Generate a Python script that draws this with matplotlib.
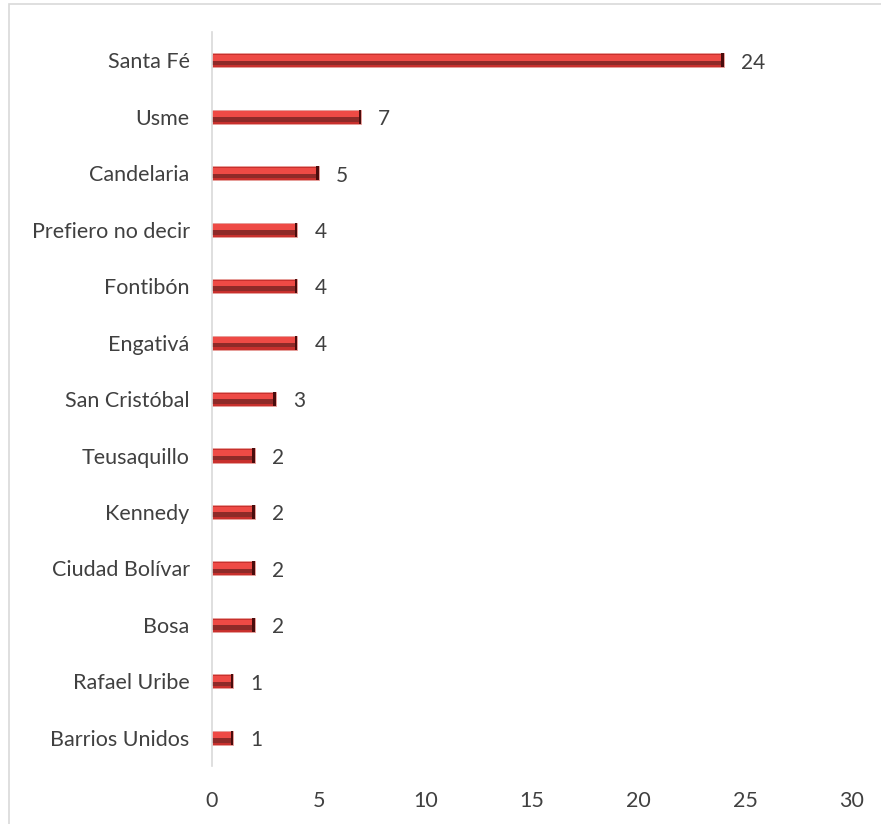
import matplotlib.pyplot as plt
from matplotlib.patches import Rectangle

localidades = ['Santa Fé', 'Usme', 'Candelaria', 'Prefiero no decir', 'Fontibón',
               'Engativá', 'San Cristóbal', 'Teusaquillo', 'Kennedy', 'Ciudad Bolívar',
               'Bosa', 'Rafael Uribe', 'Barrios Unidos']
valores = [24, 7, 5, 4, 4, 4, 3, 2, 2, 2, 2, 1, 1]
ticks_x = [0, 5, 10, 15, 20, 25, 30]

plt.rcParams['font.family'] = ['Lato', 'DejaVu Sans']

fig = plt.figure(figsize=(8.81, 8.24), dpi=100)
# marco del grafico
fig.patches.append(Rectangle((0.010, -0.01), 1.0, 1 - 0.005 + 0.01, transform=fig.transFigure,
                             fill=False, edgecolor='#d9d9d9', linewidth=1.2))

ax = fig.add_axes([0.2406, 0.0704, 0.7264, 0.8906])
y = list(range(len(localidades)))
h = 0.25

# barra con efecto de bisel (capas)
ax.barh(y, valores, height=h, color='#c8302d', edgecolor='#e7a09c', linewidth=0.6)
ax.barh([v + h * 0.12 for v in y], valores, height=h * 0.45, color='#8e2a28', linewidth=0)
ax.barh([v - h * 0.18 for v in y], valores, height=h * 0.4, color='#ee4a45', linewidth=0)
cap = [0.12] * len(valores)
ax.barh(y, cap, left=[v - 0.12 for v in valores], height=h, color='#4a0c0c', linewidth=0)

for yi, v in zip(y, valores):
    ax.text(v + 0.8, yi + 0.04, str(v), va='center', ha='left', fontsize=15, color='#404040')

ax.set_ylim(len(localidades) - 0.5, -0.5)
ax.set_xlim(0, 30)
ax.set_xticks(ticks_x)
ax.set_yticks(y)
ax.set_yticklabels(localidades)
ax.tick_params(axis='both', length=0, labelsize=15.5, labelcolor='#404040')
ax.tick_params(axis='y', pad=16)
ax.tick_params(axis='x', pad=18)
for s in ['top', 'right', 'bottom']:
    ax.spines[s].set_visible(False)
ax.spines['left'].set_color('#d9d9d9')
ax.spines['left'].set_linewidth(1.2)

fig.savefig('out.png', dpi=100)
